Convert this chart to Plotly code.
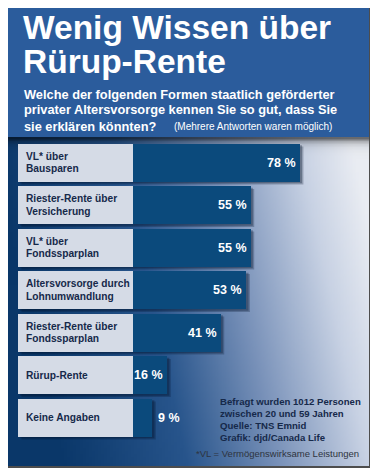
import base64, struct, zlib
import plotly.graph_objects as go

# ---------------- data ----------------
categories = [
    ["VL* über", "Bausparen"],
    ["Riester-Rente über", "Versicherung"],
    ["VL* über", "Fondssparplan"],
    ["Altersvorsorge durch", "Lohnumwandlung"],
    ["Riester-Rente über", "Fondssparplan"],
    ["Rürup-Rente"],
    ["Keine Angaben"],
]
values = [78, 55, 55, 53, 41, 16, 9]
value_labels = ["78 %", "55 %", "55 %", "53 %", "41 %", "16 %", "9 %"]

title_lines = ["Wenig Wissen über", "Rürup-Rente"]
subtitle_lines = [
    "Welche der folgenden Formen staatlich geförderter",
    "privater Altersvorsorge kennen Sie so gut, dass Sie",
    "sie erklären könnten?",
]
subtitle_note = "(Mehrere Antworten waren möglich)"
source_lines = [
    "Befragt wurden 1012 Personen",
    "zwischen 20 und 59 Jahren",
    "Quelle: TNS Emnid",
    "Grafik: djd/Canada Life",
]
footnote = "*VL = Vermögenswirksame Leistungen"

# ---------------- geometry / style ----------------
W, H = 378, 475
OFF = 8                      # page body margin
FW, FH = W - OFF, H - OFF    # figure size
ZERO_PX = 133.0 - OFF        # figure pixel of 0 %
K = 2.14                     # pixels per %
ROW0_PX = 162.5 - OFF        # figure pixel centre of first row
STEP = 42.5                  # pixels per row
BAR_W = 38.0 / STEP
LABEL_W = (133.0 - 18) / K

x_range = [-ZERO_PX / K, (FW - ZERO_PX) / K]
y_range = [(FH - ROW0_PX) / STEP, -ROW0_PX / STEP]

FRAME = (5, 7, 370, 467)     # reference-page pixels
TITLE_BOTTOM = 137

NAVY = "#0b4a7c"
BOX = "#d5dbe6"
TXT = "#16294a"
FONT = "Liberation Sans, Arial, sans-serif"


def px(x):
    return (x - OFF) / FW


def py(y):
    return 1 - (y - OFF) / FH


# ---------------- gradient background as PNG ----------------
def make_png(w, h, fn):
    rows = []
    for j in range(h):
        row = bytearray()
        for i in range(w):
            row.extend(fn(i / (w - 1), j / (h - 1), j * (FRAME[3] - TITLE_BOTTOM) / (h - 1)))
        rows.append(b"\x00" + bytes(row))
    raw = b"".join(rows)

    def chunk(t, d):
        c = struct.pack(">I", len(d)) + t + d
        return c + struct.pack(">I", zlib.crc32(t + d) & 0xFFFFFFFF)

    png = b"\x89PNG\r\n\x1a\n"
    png += chunk(b"IHDR", struct.pack(">IIBBBBB", w, h, 8, 2, 0, 0, 0))
    png += chunk(b"IDAT", zlib.compress(raw, 9))
    png += chunk(b"IEND", b"")
    return "data:image/png;base64," + base64.b64encode(png).decode()


stops = [(0.0, (10, 55, 105)), (0.35, (40, 85, 140)), (0.6, (120, 145, 185)),
         (0.85, (200, 210, 228)), (1.0, (234, 237, 243))]


def grad(u, v, ypix):
    s = u - 0.2 * v + 0.05
    s = max(0.0, min(1.0, s))
    for (a, ca), (b, cb) in zip(stops[:-1], stops[1:]):
        if s <= b:
            t = (s - a) / (b - a)
            c = [ca[k] + (cb[k] - ca[k]) * t for k in range(3)]
            break
    shade = 1 - 0.55 * pow(2.718, -ypix / 4.0)
    return bytes(int(max(0, min(255, ch * shade))) for ch in c)


bg_src = make_png(120, 110, grad)

n = len(values)
ys = list(range(n))

fig = go.Figure()

# label boxes
fig.add_trace(go.Bar(
    y=ys, x=[LABEL_W] * n, base=[-LABEL_W] * n, orientation="h",
    width=BAR_W, marker=dict(color=BOX, line=dict(width=0)),
    hoverinfo="skip", showlegend=False,
))
# value bars
fig.add_trace(go.Bar(
    y=ys, x=values, orientation="h", width=BAR_W,
    marker=dict(color=NAVY, line=dict(width=0)),
    hoverinfo="skip", showlegend=False,
))

shapes = []
# title box
shapes.append(dict(type="rect", xref="paper", yref="paper",
                   x0=px(FRAME[0]), x1=px(FRAME[2]), y0=py(TITLE_BOTTOM), y1=py(FRAME[1]),
                   fillcolor="#2b5c9c", line=dict(width=0), layer="below"))
# bar shadows
dx = 3.5 / K
dy = 3.0 / STEP
for i, v in enumerate(values):
    for off, alpha in ((1.0, 0.25), (0.6, 0.3)):
        shapes.append(dict(type="rect", xref="x", yref="y",
                           x0=-LABEL_W + dx * off, x1=v + dx * off,
                           y0=i - BAR_W / 2 + dy * off, y1=i + BAR_W / 2 + dy * off,
                           fillcolor=f"rgba(0,15,40,{alpha})", line=dict(width=0), layer="below"))
# frame
shapes.append(dict(type="rect", xref="paper", yref="paper",
                   x0=px(FRAME[0]), x1=px(FRAME[2]), y0=py(FRAME[3]), y1=py(FRAME[1]),
                   fillcolor="rgba(0,0,0,0)", line=dict(color="#4d4d4d", width=2), layer="above"))

ann = []
# title
for k, t in enumerate(title_lines):
    ann.append(dict(text="<b>" + t + "</b>", xref="paper", yref="paper", x=px(21), y=py(28 + 34 * k),
                    xanchor="left", yanchor="middle", showarrow=False,
                    font=dict(family=FONT, size=33.5, color="white")))
# subtitle
for k, t in enumerate(subtitle_lines):
    ann.append(dict(text="<b>" + t + "</b>", xref="paper", yref="paper", x=px(22), y=py(94 + 16 * k),
                    xanchor="left", yanchor="middle", showarrow=False,
                    font=dict(family=FONT, size=12.8, color="white")))
ann.append(dict(text=subtitle_note, xref="paper", yref="paper", x=px(172), y=py(127),
                xanchor="left", yanchor="middle", showarrow=False,
                font=dict(family=FONT, size=10, color="white")))
# category labels
for i, lines in enumerate(categories):
    m = len(lines)
    for k, t in enumerate(lines):
        shift = (k - (m - 1) / 2) * 12.5
        ann.append(dict(text="<b>" + t + "</b>", xref="paper", yref="y", x=px(24), y=i,
                        yshift=-shift, xanchor="left", yanchor="middle", showarrow=False,
                        font=dict(family=FONT, size=10.2, color=TXT)))
# value labels
for i, (v, lab) in enumerate(zip(values, value_labels)):
    inside = v >= 12
    ann.append(dict(text="<b>" + lab + "</b>", x=v, y=i, xref="x", yref="y",
                    xanchor="right" if inside else "left", xshift=-2 if inside else 4,
                    yanchor="middle", showarrow=False,
                    font=dict(family=FONT, size=12.5, color="white")))
# source
for k, t in enumerate(source_lines):
    ann.append(dict(text="<b>" + t + "</b>", xref="paper", yref="paper", x=px(218), y=py(401 + 12.2 * k),
                    xanchor="left", yanchor="middle", showarrow=False,
                    font=dict(family=FONT, size=9.6, color=TXT)))
ann.append(dict(text=footnote, xref="paper", yref="paper", x=px(194), y=py(453),
                xanchor="left", yanchor="middle", showarrow=False,
                font=dict(family=FONT, size=9.5, color="#2e3440")))

fig.update_layout(
    width=FW, height=FH, margin=dict(l=0, r=0, t=0, b=0),
    paper_bgcolor="white", plot_bgcolor="rgba(0,0,0,0)",
    barmode="overlay", bargap=0,
    xaxis=dict(range=x_range, visible=False, fixedrange=True),
    yaxis=dict(range=y_range, visible=False, fixedrange=True),
    shapes=shapes, annotations=ann,
    images=[dict(source=bg_src, xref="paper", yref="paper",
                 x=px(FRAME[0]), y=py(TITLE_BOTTOM),
                 sizex=(FRAME[2] - FRAME[0]) / FW, sizey=(FRAME[3] - TITLE_BOTTOM) / FH,
                 xanchor="left", yanchor="top", sizing="stretch", layer="below")],
    showlegend=False,
)

fig.write_html("out.html")
